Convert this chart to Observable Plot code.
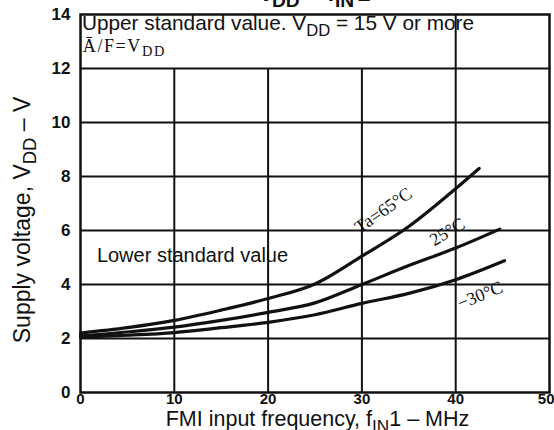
<!DOCTYPE html>
<html><head><meta charset="utf-8">
<script src="https://cdn.jsdelivr.net/npm/d3@7"></script>
<script src="https://cdn.jsdelivr.net/npm/@observablehq/plot@0.6"></script>
<style>body{margin:0;background:#fff} svg{display:block;overflow:hidden}</style>
</head><body><div id="chart"></div>
<script>
// Curves: supply voltage (V) vs FMI input frequency (MHz)
const freq65 = [0, 5, 10, 15, 20, 25, 30, 35, 40, 42.5];
const volt65 = [2.2, 2.4, 2.67, 3.05, 3.48, 4.02, 5.05, 6.15, 7.55, 8.3];
const freq25 = [0, 5, 10, 15, 20, 25, 30, 35, 40, 44.7];
const volt25 = [2.1, 2.24, 2.42, 2.67, 2.97, 3.32, 4.0, 4.7, 5.35, 6.05];
const freqM30 = [0, 5, 10, 15, 20, 25, 30, 35, 40, 45.2];
const voltM30 = [2.05, 2.12, 2.22, 2.4, 2.6, 2.88, 3.3, 3.67, 4.18, 4.88];

const curveLabels = ["Ta=65°C", "25°C", "−30°C"];
const curveLabelX = [32.3, 39.1, 42.6];
const curveLabelY = [6.75, 5.95, 3.6];
const curveLabelAngle = [-35, -31, -22];

const xTicks = [0, 10, 20, 30, 40, 50];
const yTicks = [0, 2, 4, 6, 8, 10, 12, 14];
const gridX = [10, 20, 30, 40];
const gridXTop = [12, 12, 12, 14];
const gridY = [2, 4, 6, 8, 10, 12];

const series = [
  {name: "65", f: freq65, v: volt65},
  {name: "25", f: freq25, v: volt25},
  {name: "-30", f: freqM30, v: voltM30}
];
const rows = series.flatMap(s => s.f.map((f, i) => ({series: s.name, f, v: s.v[i]})));
const labelRows = curveLabels.map((t, i) => ({t, x: curveLabelX[i], y: curveLabelY[i], a: curveLabelAngle[i]}));

const ink = "#111";
const tickFont = "'Liberation Sans Narrow', 'Liberation Sans', sans-serif";
const chart = Plot.plot({
  width: 554, height: 430,
  marginLeft: 80, marginRight: 5, marginTop: 14, marginBottom: 38,
  style: {background: "#fff", color: ink},
  x: {domain: [0, 50]},
  y: {domain: [0, 14]},
  marks: [
    Plot.ruleY(gridY, {y: d => d, stroke: ink, strokeWidth: 2}),
    Plot.ruleX(gridX, {x: d => d, y1: 0, y2: (d, i) => gridXTop[i], stroke: ink, strokeWidth: 2}),
    Plot.frame({stroke: ink, strokeWidth: 2.5}),
    Plot.axisX(xTicks, {tickSize: 0, tickPadding: 1, fontSize: 15, fontWeight: "bold", fontFamily: tickFont, label: null}),
    Plot.axisY(yTicks, {tickSize: 0, tickPadding: 10, fontSize: 17, fontWeight: "bold", fontFamily: tickFont, label: null}),
    Plot.line(rows, {x: "f", y: "v", z: "series", stroke: ink, strokeWidth: 3.2, curve: "monotone-x"}),
    ...labelRows.map(r => Plot.text([r], {x: "x", y: "y", text: "t", rotate: r.a, fontSize: 18, fontFamily: "Liberation Serif", fill: ink}))
  ]
});
document.getElementById("chart").append(chart);

const svg = d3.select(chart);
// last x tick label sits flush with the right edge, as in the reference
svg.selectAll('g[aria-label="x-axis tick label"] text')
  .filter(function() { return this.textContent === "50"; })
  .attr("text-anchor", "end").attr("x", 5);

const sx = chart.scale("x"), sy = chart.scale("y");
function rich(x, y, parts, opts) {
  const t = svg.append("text").attr("x", x).attr("y", y)
    .attr("font-family", opts.family || "Liberation Sans")
    .attr("font-size", opts.size).attr("fill", ink)
    .attr("text-anchor", opts.anchor || "start");
  if (opts.weight) t.attr("font-weight", opts.weight);
  if (opts.rotate) t.attr("transform", `rotate(${opts.rotate},${x},${y})`);
  if (opts.spacing) t.attr("letter-spacing", opts.spacing);
  for (const [s, sub, px] of parts) {
    const ts = t.append("tspan").text(s);
    if (sub === 1) ts.attr("font-size", opts.size * 0.8).attr("dy", opts.size * 0.26);
    if (sub === -1) ts.attr("dy", -opts.size * 0.26);
    if (px != null) ts.attr("x", px);
  }
  return t;
}
// cut-off title at top of the page
rich(258, 1, [["V"], ["DD", 1, 272], ["– f", -1, 307], ["IN", 1, 335], ["1", -1, 357]], {size: 24, weight: "bold"});
// in-plot texts
rich(sx.apply(0.2), sy.apply(13.4), [["Upper standard value. V"], ["DD", 1], [" = 15 V or more", -1]], {size: 20.8});
rich(sx.apply(0.3), sy.apply(12.6), [["Ā/F=V"], ["DD", 1]], {size: 18, family: "Liberation Serif", spacing: 1.6});
rich(sx.apply(1.8), sy.apply(4.8), [["Lower standard value"]], {size: 20});
// axis titles
rich((80 + 549) / 2 + 3, 426, [["FMI input frequency, f"], ["IN", 1], ["1 – MHz", -1]], {size: 21.5, anchor: "middle"});
rich(30, 220, [["Supply voltage, V"], ["DD", 1], [" – V", -1]], {size: 23, anchor: "middle", rotate: -90});
</script></body></html>
